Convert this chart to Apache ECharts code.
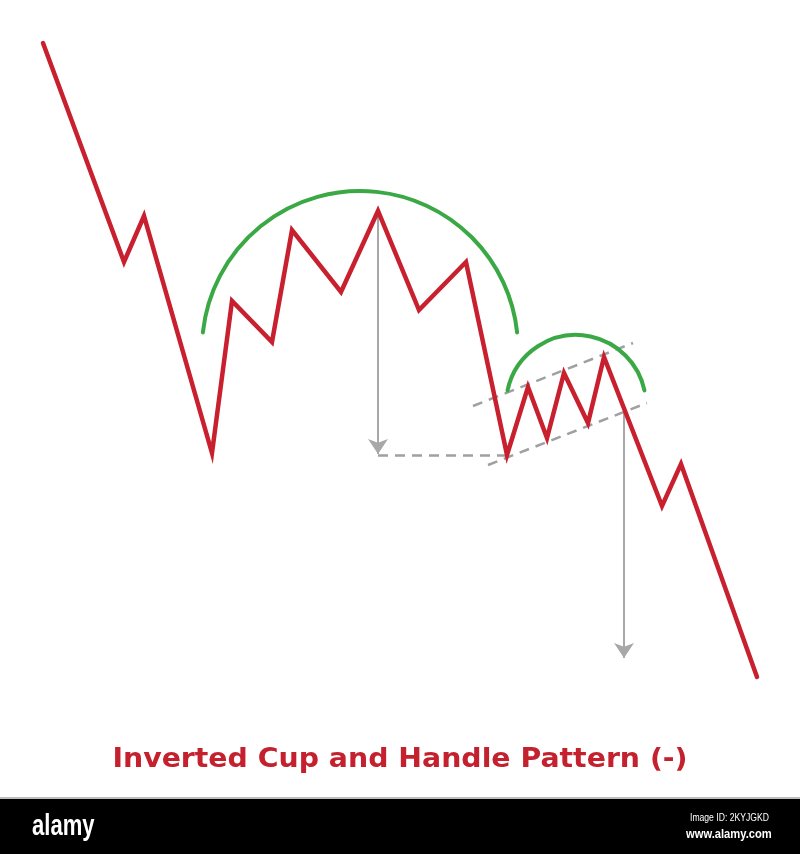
<!DOCTYPE html>
<html>
<head>
<meta charset="utf-8">
<script src="https://cdn.jsdelivr.net/npm/echarts@6/dist/echarts.min.js"></script>
<style>
html,body{margin:0;padding:0;background:#fff;}
#main{width:800px;height:854px;}
</style>
</head>
<body>
<div id="main"></div>
<script>
// Price path (time units, price units)
var timeValues  = [43, 124, 144, 212, 232, 272, 292, 341, 378, 419, 466, 507, 528, 547, 564, 588, 604, 662, 681, 757];
var priceValues = [811, 592, 638, 401, 553, 512, 624, 562, 643, 544, 592, 399, 467, 416, 481, 431, 497, 348, 390, 177];

// Cup and handle arcs: center time, center price, radius, start/end angle (deg)
var arcCenters = [[360, 505], [576, 449]];
var arcRadii   = [158, 70];
var arcAngles  = [[174, 6], [168, 12]];

// Measured-move arrows [fromTime, fromPrice, toTime, toPrice]
var arrowSegments = [[378, 643, 378, 400], [624, 443, 624, 196]];

// Dashed guide lines
var dashedSegments = [
  [378, 399, 507, 399],
  [473, 448, 633, 511],
  [488, 389, 647, 451]
];

var titleText = 'Inverted Cup and Handle Pattern (-)';

var pathData = timeValues.map(function (t, i) { return [t, priceValues[i]]; });
var arcData = arcCenters.map(function (c, i) { return [c[0], c[1], arcRadii[i], arcAngles[i][0], arcAngles[i][1]]; });
function toLines(arr) {
  return arr.map(function (s) { return { coords: [[s[0], s[1]], [s[2], s[3]]] }; });
}

var chart = echarts.init(document.getElementById('main'), null, { renderer: 'canvas' });
chart.setOption({
  backgroundColor: '#ffffff',
  animation: false,
  grid: { left: 0, right: 0, top: 0, bottom: 0 },
  xAxis: { type: 'value', min: 0, max: 800, show: false },
  yAxis: { type: 'value', min: 0, max: 854, show: false },
  graphic: [
    { type: 'text', x: 400, y: 760, scaleX: 1.09, z: 50,
      style: { text: titleText, x: 0, y: 0, align: 'center', verticalAlign: 'middle',
               fill: '#c4202e', font: 'bold 26px "DejaVu Sans", sans-serif' } },
    { type: 'rect', shape: { x: 0, y: 797, width: 800, height: 3 }, style: { fill: '#bdbdbd' }, z: 100 },
    { type: 'rect', shape: { x: 0, y: 799, width: 800, height: 55 }, style: { fill: '#000000' }, z: 101 },
    { type: 'text', x: 32, y: 827, scaleX: 0.76, z: 102,
      style: { text: 'alamy', x: 0, y: 0, align: 'left', verticalAlign: 'middle', fill: '#ffffff',
               font: 'bold 29px "Liberation Sans", sans-serif' } },
    { type: 'text', x: 690, y: 818, scaleX: 0.86, z: 102,
      style: { text: 'Image ID: 2KYJGKD', x: 0, y: 0, align: 'left', verticalAlign: 'middle', fill: '#ffffff',
               font: '10px "Liberation Sans", sans-serif' } },
    { type: 'text', x: 686, y: 834, scaleX: 0.86, z: 102,
      style: { text: 'www.alamy.com', x: 0, y: 0, align: 'left', verticalAlign: 'middle', fill: '#ffffff',
               font: 'bold 13px "Liberation Sans", sans-serif' } }
  ],
  series: [
    {
      type: 'lines',
      coordinateSystem: 'cartesian2d',
      data: toLines(dashedSegments),
      symbol: ['none', 'none'],
      lineStyle: { color: '#a0a0a0', width: 2.5, type: [10, 7], opacity: 1 },
      z: 1
    },
    {
      type: 'lines',
      coordinateSystem: 'cartesian2d',
      data: toLines(arrowSegments),
      symbol: ['none', 'arrow'],
      symbolSize: [11, 15],
      lineStyle: { color: '#a8a8a8', width: 2, opacity: 1 },
      z: 2
    },
    {
      type: 'custom',
      coordinateSystem: 'cartesian2d',
      data: arcData,
      renderItem: function (params, api) {
        var c = api.coord([api.value(0), api.value(1)]);
        var r = api.size([api.value(2), 0])[0];
        var a0 = -api.value(3) * Math.PI / 180;
        var a1 = -api.value(4) * Math.PI / 180;
        return {
          type: 'arc',
          shape: { cx: c[0], cy: c[1], r: r, startAngle: a0, endAngle: a1, clockwise: true },
          style: { stroke: '#3aa844', lineWidth: 4, fill: null, lineCap: 'round' }
        };
      },
      z: 3
    },
    {
      type: 'line',
      data: pathData,
      showSymbol: false,
      symbol: 'none',
      lineStyle: { color: '#c8202e', width: 4.5, join: 'miter', cap: 'round' },
      z: 4
    }
  ]
});
</script>
</body>
</html>
